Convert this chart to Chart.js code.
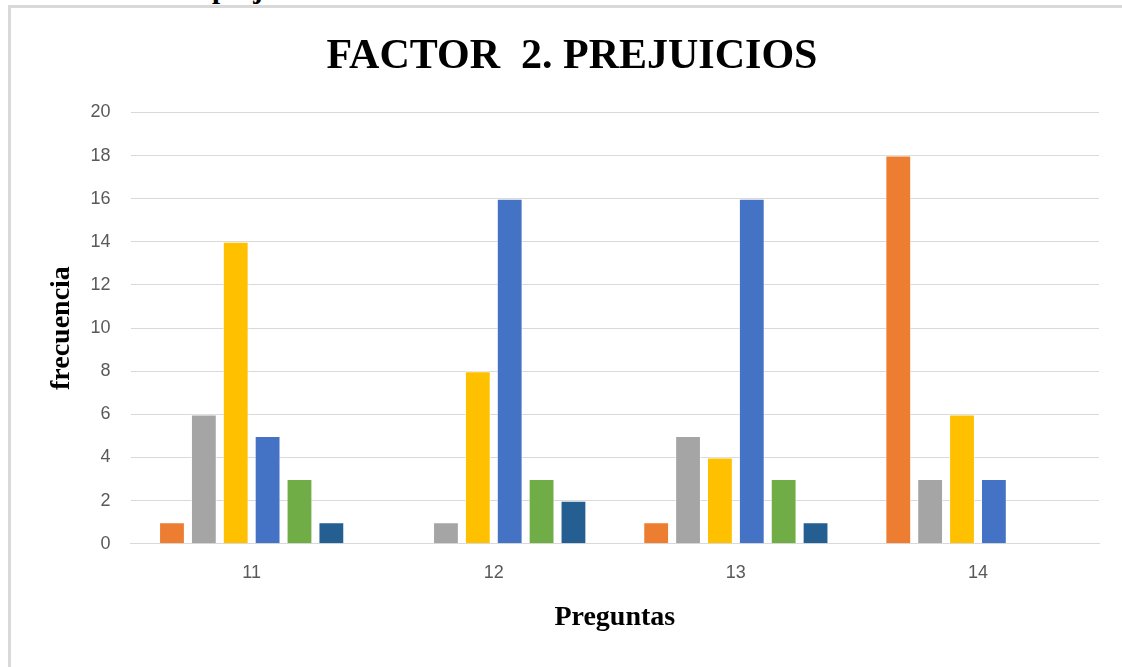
<!DOCTYPE html>
<html>
<head>
<meta charset="utf-8">
<script src="https://cdn.jsdelivr.net/npm/chart.js@4.4.0/dist/chart.umd.min.js"></script>
<style>
  html, body { margin: 0; padding: 0; background: #fff; overflow: hidden; }
  body { width: 1122px; height: 667px; position: relative; }
  #frame {
    position: absolute; left: 8px; top: 5px; width: 1130px; height: 680px;
    border: 3px solid #d9d9d9; box-sizing: border-box;
  }
  #cut {
    position: absolute; left: 212px; top: -28px;
    font: bold 29px "Liberation Serif", serif; color: #000;
  }
  #wrap { position: absolute; left: 0; top: 0; width: 1122px; height: 667px; }
</style>
</head>
<body>
<div id="cut">prejuicios</div>
<div id="frame"></div>
<div id="wrap"><canvas id="factorChart"></canvas></div>
<script>
'use strict';

// ********************* DATA *********************

let preguntas = ['11', '12', '13', '14'];
let serieUno = [1, 0, 1, 18];
let serieDos = [6, 1, 5, 3];
let serieTres = [14, 8, 4, 6];
let serieCuatro = [5, 16, 16, 3];
let serieCinco = [3, 3, 3, 0];
let serieSeis = [1, 2, 1, 0];

let colores = ['#ED7D31', '#A5A5A5', '#FFC000', '#4472C4', '#70AD47', '#255E91'];
let series = [serieUno, serieDos, serieTres, serieCuatro, serieCinco, serieSeis];

// ********************* CHART *********************

let ctx = document.getElementById('factorChart');

let datasets = [];
for (let i = 0; i < series.length; i++) {
  datasets.push({
    label: 'Serie ' + (i + 1),
    data: series[i],
    backgroundColor: colores[i],
    borderColor: 'rgba(255,255,255,0.6)',
    borderWidth: 1,
    categoryPercentage: 0.79,
    barPercentage: 0.81
  });
}

let chartObj = {
  type: 'bar',
  data: {
    labels: preguntas,
    datasets: datasets
  },
  options: {
    responsive: true,
    maintainAspectRatio: false,
    animation: false,
    layout: {
      padding: { left: 45, right: 23, top: 32, bottom: 28 }
    },
    plugins: {
      legend: { display: false },
      tooltip: { enabled: false },
      title: {
        display: true,
        text: 'FACTOR  2. PREJUICIOS',
        color: '#000',
        font: { family: '"Liberation Serif", serif', size: 42, weight: 'bold' },
        padding: { top: 0, bottom: 30 }
      }
    },
    scales: {
      x: {
        grid: { display: false, drawTicks: false },
        border: { color: '#d9d9d9', width: 1 },
        ticks: { color: '#595959', font: { family: '"Liberation Sans", sans-serif', size: 18 }, padding: 18 },
        title: {
          display: true,
          text: 'Preguntas',
          color: '#000',
          font: { family: '"Liberation Serif", serif', size: 28, weight: 'bold' },
          padding: { top: 0 }
        }
      },
      y: {
        min: 0,
        max: 20,
        ticks: { stepSize: 2, color: '#595959', font: { family: '"Liberation Sans", sans-serif', size: 18 }, padding: 20 },
        grid: { color: '#d9d9d9', drawTicks: false },
        border: { display: false },
        title: {
          display: true,
          text: 'frecuencia',
          color: '#000',
          font: { family: '"Liberation Serif", serif', size: 28, weight: 'bold' },
          padding: { top: 0, bottom: -8 }
        }
      }
    }
  }
};

new Chart(ctx, chartObj);
</script>
</body>
</html>
